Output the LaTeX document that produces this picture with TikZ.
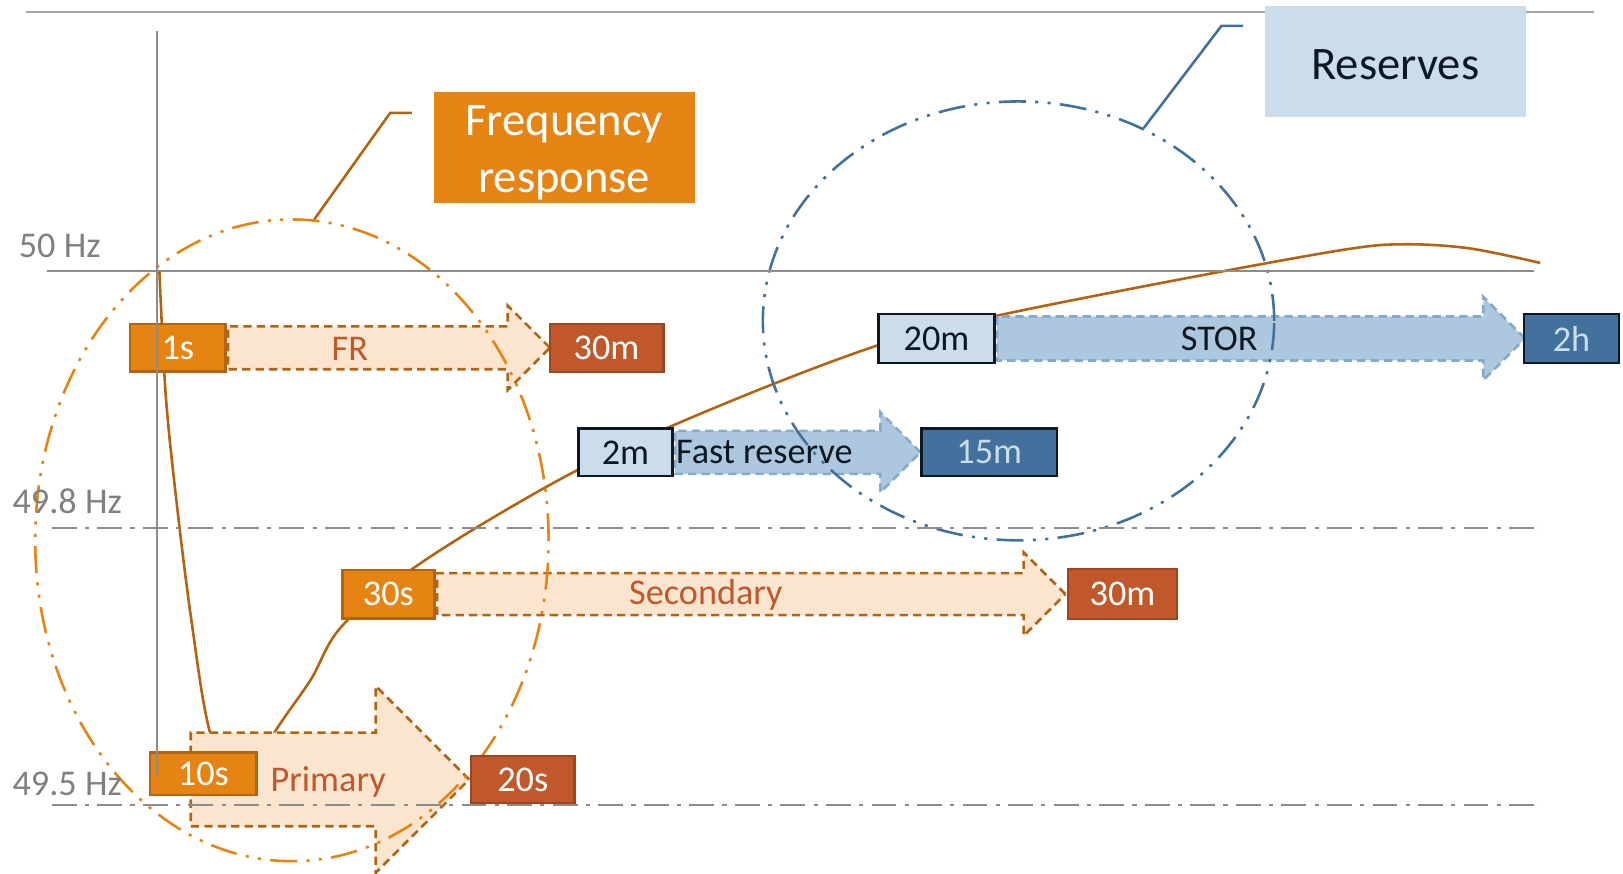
\documentclass[tikz,border=0pt]{standalone}
\usepackage{fontspec}
\setmainfont{Carlito}
\usetikzlibrary{positioning,shapes.geometric,shapes.arrows}

\definecolor{frorange}{RGB}{229,131,19}
\definecolor{frbrown}{RGB}{180,100,16}
\definecolor{frred}{RGB}{192,88,44}
\definecolor{frreddark}{RGB}{158,70,34}
\definecolor{frpeach}{RGB}{251,229,206}
\definecolor{rslight}{RGB}{203,221,234}
\definecolor{rsfill}{RGB}{173,200,222}
\definecolor{rsdash}{RGB}{132,170,204}
\definecolor{rsdark}{RGB}{65,113,156}
\definecolor{rsink}{RGB}{14,24,34}
\definecolor{axisgray}{RGB}{140,140,140}
\definecolor{topgray}{RGB}{166,166,166}
\definecolor{labelgray}{RGB}{128,128,128}

\newcommand{\boxfont}{\fontsize{35}{40}\selectfont}
\newcommand{\titlefont}{\fontsize{45}{55}\selectfont}

\begin{document}
\begin{tikzpicture}[
    x=1pt, y=-1pt,
    frstart/.style={rectangle, draw=frbrown, fill=frorange, line width=2.5pt, text=white, font=\boxfont, inner sep=0pt, minimum height=46pt},
    frend/.style={rectangle, draw=frreddark, fill=frred, line width=2pt, text=white, font=\boxfont, inner sep=0pt, minimum height=46pt},
    frarrow/.style={single arrow, draw=frbrown, fill=frpeach, line width=2.5pt, dash pattern=on 8pt off 5pt, inner xsep=0pt, single arrow tip angle=90, anchor=tail},
    frlabel/.style={text=frred, font=\boxfont, inner sep=0pt},
    rsstart/.style={rectangle, draw=rsink, fill=rslight, line width=2.5pt, text=rsink, font=\boxfont, inner sep=0pt, minimum height=46pt},
    rsend/.style={rectangle, draw=rsink, fill=rsdark, line width=2.5pt, text=rslight, font=\boxfont, inner sep=0pt, minimum height=46pt},
    rsarrow/.style={single arrow, draw=rsdash, fill=rsfill, line width=2.5pt, dash pattern=on 8pt off 5pt, inner xsep=0pt, single arrow tip angle=90, anchor=tail},
    rslabel/.style={text=rsink, font=\boxfont, inner sep=0pt},
    zone/.style={ellipse, inner sep=0pt, line width=2.5pt, dash pattern=on 26pt off 9pt on 3pt off 9pt on 3pt off 9pt},
    leader/.style={line width=2.5pt},
    freqtrace/.style={draw=frbrown, line width=2.5pt},
    hzline/.style={draw=axisgray, line width=2pt},
    hzdash/.style={hzline, dash pattern=on 24pt off 8pt on 4pt off 8pt},
    hzlabel/.style={text=labelgray, font=\boxfont, anchor=west, inner sep=0pt},
    titlebox/.style={rectangle, inner sep=0pt, minimum width=252pt, minimum height=107pt, font=\titlefont, align=center}
]
    \useasboundingbox (0,0) rectangle (1568,844);

    % frequency trace
    \draw[freqtrace] plot[smooth, tension=0.55] coordinates {(154,262) (160,380) (170,480) (185,600) (203,708) (232,768) (265,708) (300,657) (333,602) (420,535) (560,453) (700,390) (850,333) (963,305) (1150,268) (1300,241) (1358,236) (1420,240) (1488,254)};

    % block arrows
    \node[frarrow, minimum height=311pt, inner ysep=19.5pt, single arrow head extend=20pt] (fr arrow) at (219,336) {};
    \node[frarrow, minimum height=269pt, inner ysep=44pt, single arrow head extend=45pt] (primary arrow) at (183,753) {};
    \node[frarrow, minimum height=607pt, inner ysep=19pt, single arrow head extend=20pt] (secondary arrow) at (421,574) {};
    \node[rsarrow, minimum height=237pt, inner ysep=19.5pt, single arrow head extend=18pt] (fast arrow) at (651,437) {};
    \node[rsarrow, minimum height=510pt, inner ysep=20pt, single arrow head extend=19pt] (stor arrow) at (962,327) {};

    \node[frlabel] (fr text) at (338,337) {FR};
    \node[frlabel] (primary text) at (317,755) {Primary};
    \node[frlabel] (secondary text) at (682,575) {Secondary};
    \node[rslabel, anchor=west] (fast text) at (653,437) {Fast reserve};
    \node[rslabel] (stor text) at (1178,327) {STOR};

    % zones
    \node[zone, draw=frorange, minimum width=496pt, minimum height=620pt] (fr zone) at (282,522) {};
    \node[zone, draw=rsdark, minimum width=494pt, minimum height=424pt] (rs zone) at (984,310) {};

    % time boxes
    \node[frstart, minimum width=92pt, left=0pt of fr arrow.tail] (fr from) {1s};
    \node[frend, minimum width=110pt, right=-3pt of fr arrow.tip] (fr to) {30m};
    \node[frstart, minimum width=103pt, minimum height=41pt] (primary from) at (196.5,747.5) {10s};
    \node[frend, minimum width=100pt, right=-1pt of primary arrow.tip] (primary to) {20s};
    \node[frstart, minimum width=89pt, minimum height=47pt, left=0pt of secondary arrow.tail] (secondary from) {30s};
    \node[frend, minimum width=105pt, minimum height=48pt, right=0pt of secondary arrow.tip] (secondary to) {30m};
    \node[rsstart, minimum width=91pt, left=0pt of fast arrow.tail] (fast from) {2m};
    \node[rsend, minimum width=131pt, right=-2pt of fast arrow.tip] (fast to) {15m};
    \node[rsstart, minimum width=112pt, minimum height=47pt, left=0pt of stor arrow.tail] (stor from) {20m};
    \node[rsend, minimum width=92pt, minimum height=47pt, right=-4pt of stor arrow.tip] (stor to) {2h};

    % axes and frequency levels
    \draw[hzline, draw=topgray] (25,12) -- (1540,12);
    \draw[hzline] (152,30) -- (152,750);
    \draw[hzline] (45,262) -- (1482,262);
    \draw[hzdash] (50,510) -- (1490,510);
    \draw[hzdash] (50,778) -- (1490,778);
    \node[hzlabel] (hz50) at (18,238) {50 Hz};
    \node[hzlabel] (hz498) at (12,484) {49.8 Hz};
    \node[hzlabel] (hz495) at (12,757) {49.5 Hz};

    % titles
    \node[titlebox, fill=frorange, text=white] (fr title) at (545,142.5) {\rule{0pt}{39pt}Frequency\\response};
    \node[titlebox, fill=rslight, text=rsink, text height=35pt, text depth=0pt] (rs title) at (1348,59.5) {Reserves};

    \coordinate (fr knee) at (377,109);
    \draw[leader, frbrown] (fr zone.86) -- (fr knee) -- ++(21,0);
    \coordinate (rs knee) at (1180,25);
    \draw[leader, rsdark] (rs zone.57) -- (rs knee) -- ++(21,0);
\end{tikzpicture}
\end{document}
